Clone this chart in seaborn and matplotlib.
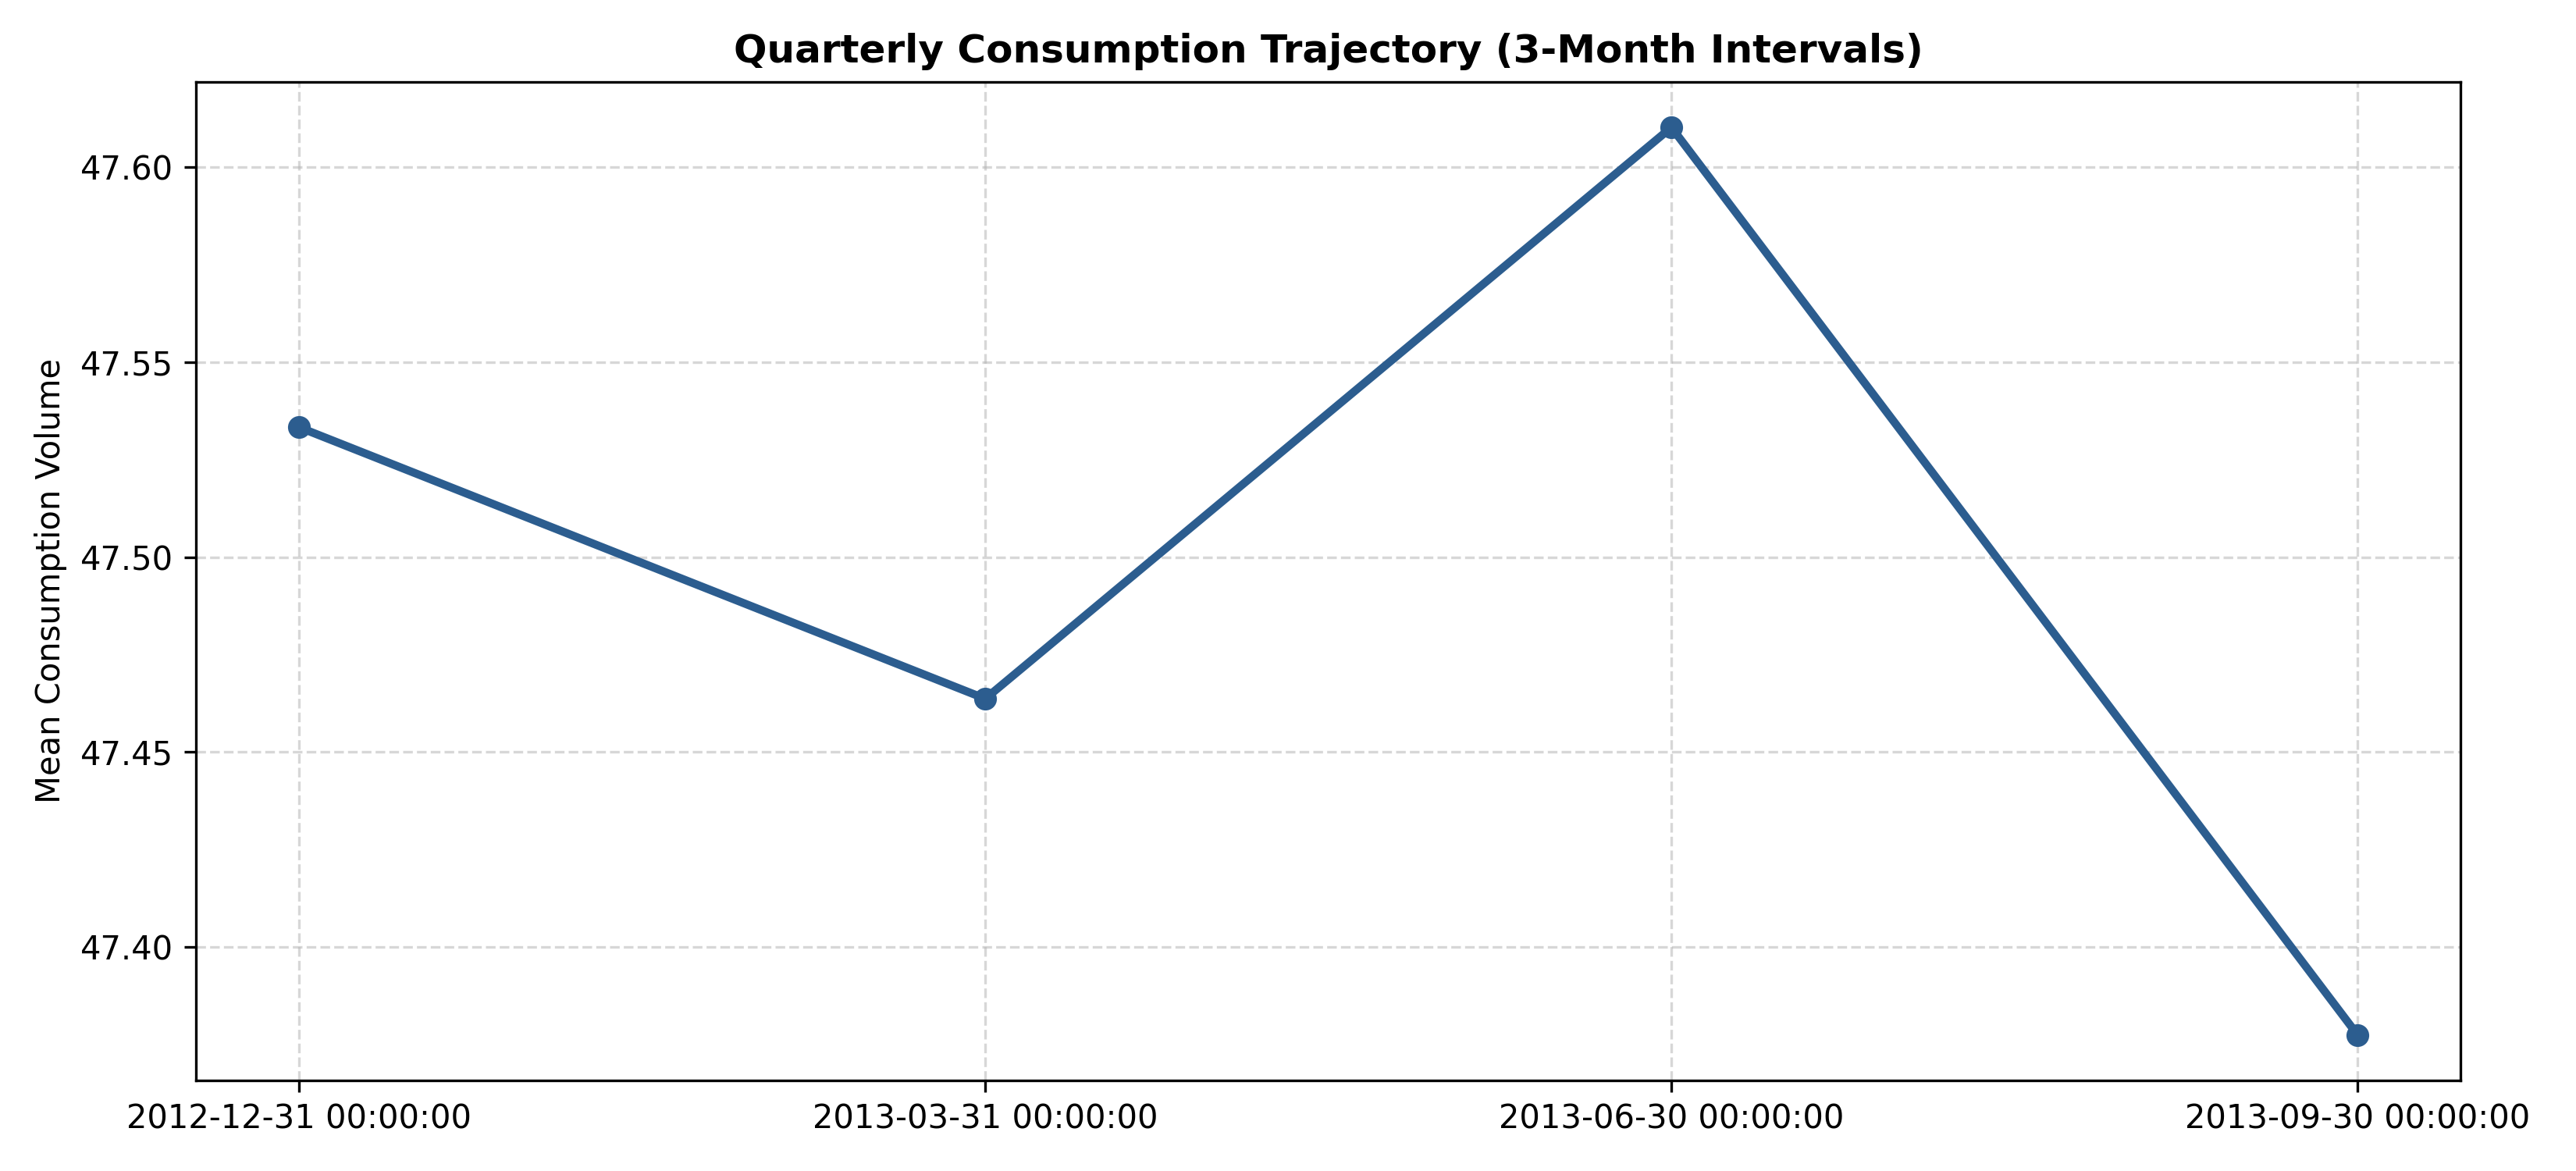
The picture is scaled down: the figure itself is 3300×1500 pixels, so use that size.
import pandas as pd
import matplotlib
matplotlib.use('Agg')
import matplotlib.pyplot as plt
import seaborn as sns

# Dati trimestrali
quarters = ['2012-12-31 00:00:00', '2013-03-31 00:00:00',
            '2013-06-30 00:00:00', '2013-09-30 00:00:00']
mean_consumption = [47.5333, 47.4637, 47.6102, 47.3775]

df = pd.DataFrame({'quarter': quarters, 'consumption': mean_consumption})

fig, ax = plt.subplots(figsize=(11, 5))

sns.lineplot(
    x='quarter',
    y='consumption',
    data=df,
    marker='o',
    markersize=7,
    markeredgewidth=0,
    linewidth=2.5,
    color='#2c5d8f',
    ax=ax
)

ax.set_title('Quarterly Consumption Trajectory (3-Month Intervals)',
             fontsize=12, fontweight='bold')
ax.set_xlabel('')
ax.set_ylabel('Mean Consumption Volume')
ax.grid(True, linestyle='--', alpha=0.5)

fig.tight_layout()
fig.subplots_adjust(top=0.93)
fig.savefig('out.png', dpi=300)
